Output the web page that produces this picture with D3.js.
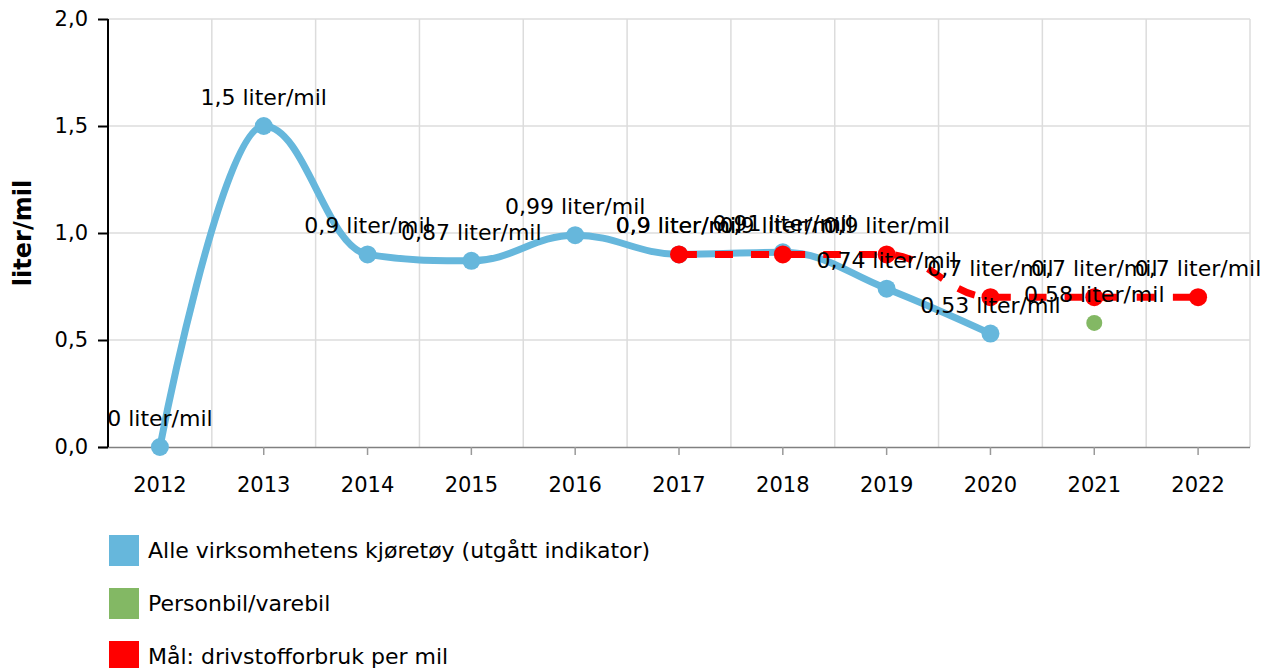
<!DOCTYPE html>
<html>
<head>
<meta charset="utf-8">
<script src="https://cdn.jsdelivr.net/npm/d3@7"></script>
<style>
  body { margin: 0; background: #fff; }
  svg { font-family: "DejaVu Sans", Verdana, sans-serif; }
</style>
</head>
<body>
<div id="chart"></div>
<script>
var years = ["2012", "2013", "2014", "2015", "2016", "2017", "2018", "2019", "2020", "2021", "2022"];
var allVehicles = [0, 1.5, 0.9, 0.87, 0.99, 0.9, 0.91, 0.74, 0.53];
var carVan = [null, null, null, null, null, null, null, null, null, 0.58];
var target = [null, null, null, null, null, 0.9, 0.9, 0.9, 0.7, 0.7, 0.7];
var yTicks = [0, 0.5, 1, 1.5, 2];
var legendNames = ["Alle virksomhetens kjøretøy (utgått indikator)", "Personbil/varebil", "Mål: drivstofforbruk per mil"];
var colors = ["#66b7dc", "#83b864", "#ff0000"];

var width = 1276, height = 668;
var margin = {top: 19, right: 26, bottom: 221, left: 108};
var w = width - margin.left - margin.right,
    h = height - margin.top - margin.bottom;

var svg = d3.select("#chart").append("svg")
  .attr("width", width)
  .attr("height", height);
var chart = svg.append("g")
  .attr("transform", "translate(" + margin.left + "," + margin.top + ")");

var x = d3.scaleBand().domain(years).range([0, w]);
var y = d3.scaleLinear().domain([0, 2]).range([h, 0]);
var cx = function(i) { return x(years[i]) + x.bandwidth() / 2; };
var fmt = function(v) { return String(v).replace(".", ","); };

// grid
chart.append("g").selectAll("line")
  .data(yTicks.slice(1))
  .enter().append("line")
  .attr("x1", 0).attr("x2", w)
  .attr("y1", function(d) { return y(d); })
  .attr("y2", function(d) { return y(d); })
  .attr("stroke", "#dcdcdc").attr("stroke-width", 1.5);
chart.append("g").selectAll("line")
  .data(years)
  .enter().append("line")
  .attr("x1", function(d) { return x(d) + x.bandwidth(); })
  .attr("x2", function(d) { return x(d) + x.bandwidth(); })
  .attr("y1", 0).attr("y2", h)
  .attr("stroke", "#dcdcdc").attr("stroke-width", 1.5);

// x axis
var xg = chart.append("g")
  .attr("transform", "translate(0," + h + ")")
  .call(d3.axisBottom(x).tickSize(8).tickPadding(22));
xg.select(".domain").attr("stroke", "#808080").attr("stroke-width", 1.5)
  .attr("d", "M-10,0.5H" + w);
xg.selectAll(".tick line").attr("stroke", "#999").attr("stroke-width", 1.5);
xg.selectAll("text").attr("font-size", 21).attr("fill", "#000")
  .attr("font-family", "DejaVu Sans, Verdana, sans-serif");

// y axis
var yg = chart.append("g")
  .call(d3.axisLeft(y).tickValues(yTicks).tickSize(10).tickPadding(10)
    .tickFormat(function(d) { return d3.format(".1f")(d).replace(".", ","); }));
yg.select(".domain").attr("stroke", "#000").attr("stroke-width", 2)
  .attr("d", "M0,0V" + h);
yg.selectAll(".tick line").attr("stroke", "#000").attr("stroke-width", 2);
yg.selectAll("text").attr("font-size", 21).attr("fill", "#000")
  .attr("font-family", "DejaVu Sans, Verdana, sans-serif");

svg.append("text")
  .attr("transform", "translate(31," + (margin.top + h / 2) + ") rotate(-90)")
  .attr("text-anchor", "middle")
  .attr("font-size", 24).attr("font-weight", "bold")
  .text("liter/mil");

function pts(values) {
  return values.map(function(v, i) { return {i: i, v: v}; })
    .filter(function(d) { return d.v !== null && d.v !== undefined; });
}

// spline with control points kept between neighbours (no false extremes)
function spline(data) {
  var p = data.map(function(d) { return {x: cx(d.i), y: y(d.v)}; });
  var s = 1.5, den = s + 1;
  p.forEach(function(c, i) {
    if (i === 0 || i === p.length - 1) return;
    var a = p[i - 1], b = p[i + 1];
    var lx = (s * c.x + a.x) / den, ly = (s * c.y + a.y) / den;
    var rx = (s * c.x + b.x) / den, ry = (s * c.y + b.y) / den;
    var corr = (ry - ly) * (rx - c.x) / (rx - lx) + c.y - ry;
    ly += corr; ry += corr;
    if (ly > a.y && ly > c.y) { ly = Math.max(a.y, c.y); ry = 2 * c.y - ly; }
    else if (ly < a.y && ly < c.y) { ly = Math.min(a.y, c.y); ry = 2 * c.y - ly; }
    if (ry > b.y && ry > c.y) { ry = Math.max(b.y, c.y); ly = 2 * c.y - ry; }
    else if (ry < b.y && ry < c.y) { ry = Math.min(b.y, c.y); ly = 2 * c.y - ry; }
    c.lx = lx; c.ly = ly; c.rx = rx; c.ry = ry;
  });
  var path = d3.path();
  path.moveTo(p[0].x, p[0].y);
  for (var i = 1; i < p.length; i++) {
    var a = p[i - 1], c = p[i];
    path.bezierCurveTo(
      a.rx !== undefined ? a.rx : a.x, a.ry !== undefined ? a.ry : a.y,
      c.lx !== undefined ? c.lx : c.x, c.ly !== undefined ? c.ly : c.y,
      c.x, c.y);
  }
  return path.toString();
}

var blue = pts(allVehicles), green = pts(carVan), red = pts(target);

chart.append("path").datum(blue)
  .attr("d", spline).attr("fill", "none")
  .attr("stroke", colors[0]).attr("stroke-width", 7);
chart.append("g").selectAll("circle").data(blue).enter().append("circle")
  .attr("cx", function(d) { return cx(d.i); })
  .attr("cy", function(d) { return y(d.v); })
  .attr("r", 9).attr("fill", colors[0]);

chart.append("g").selectAll("circle").data(green).enter().append("circle")
  .attr("cx", function(d) { return cx(d.i); })
  .attr("cy", function(d) { return y(d.v); })
  .attr("r", 8).attr("fill", colors[1]);

chart.append("path").datum(red)
  .attr("d", spline).attr("fill", "none")
  .attr("stroke", colors[2]).attr("stroke-width", 7)
  .attr("stroke-dasharray", "18,18");
chart.append("g").selectAll("circle").data(red).enter().append("circle")
  .attr("cx", function(d) { return cx(d.i); })
  .attr("cy", function(d) { return y(d.v); })
  .attr("r", 9).attr("fill", colors[2]);

// data labels
[blue, green, red].forEach(function(series) {
  chart.append("g").selectAll("text").data(series).enter().append("text")
    .attr("x", function(d) { return cx(d.i); })
    .attr("y", function(d) { return y(d.v) - 21; })
    .attr("text-anchor", "middle")
    .attr("font-size", 22)
    .text(function(d) { return fmt(d.v) + " liter/mil"; });
});

// legend
var legend = svg.append("g").attr("transform", "translate(109,535)");
var item = legend.selectAll("g").data(legendNames).enter().append("g")
  .attr("transform", function(d, i) { return "translate(0," + i * 53 + ")"; });
item.append("rect").attr("width", 30).attr("height", 31)
  .attr("fill", function(d, i) { return colors[i]; });
item.append("text").attr("x", 39).attr("y", 23)
  .attr("font-size", 22).text(function(d) { return d; });
</script>
</body>
</html>
